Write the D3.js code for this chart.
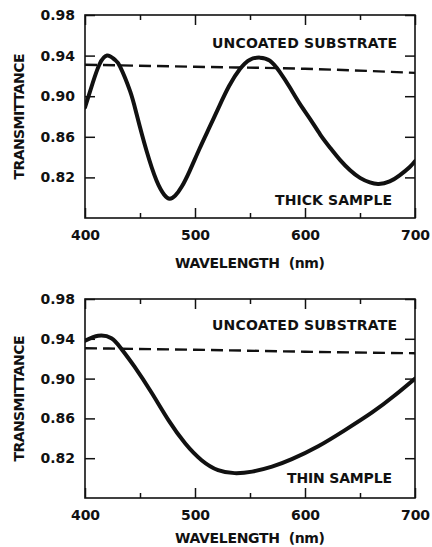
<!DOCTYPE html>
<html>
<head>
<meta charset="utf-8">
<script src="https://cdn.jsdelivr.net/npm/d3@7"></script>
<style>
  html, body { margin: 0; padding: 0; background: #fff; }
  svg { display: block; }
  text { font-family: "DejaVu Sans", "Liberation Sans", sans-serif; font-weight: bold; fill: #111; }
</style>
</head>
<body>
<svg id="chart" width="432" height="547"></svg>
<script>
// Wavelength (nm) and transmittance of the thick coated sample
const thickWavelength = [400, 407, 413, 420, 427, 432, 441, 447, 456, 465, 472, 477, 482, 488, 495, 504, 513, 522, 531, 541, 550, 559, 568, 577, 586, 595, 605, 614, 623, 632, 641, 650, 659, 667, 677, 686, 695, 700];
const thickTransmittance = [0.889, 0.913, 0.931, 0.940, 0.936, 0.929, 0.905, 0.882, 0.846, 0.817, 0.803, 0.799, 0.802, 0.811, 0.826, 0.848, 0.869, 0.890, 0.910, 0.927, 0.936, 0.938, 0.935, 0.924, 0.909, 0.893, 0.877, 0.862, 0.849, 0.837, 0.827, 0.8195, 0.815, 0.8135, 0.816, 0.822, 0.830, 0.836];

// Thin coated sample
const thinWavelength = [400, 412, 424, 433, 445, 461, 476, 491, 506, 521, 536, 552, 570, 588, 612, 636, 661, 682, 700];
const thinTransmittance = [0.938, 0.943, 0.9405, 0.930, 0.912, 0.885, 0.858, 0.835, 0.818, 0.808, 0.805, 0.8065, 0.8115, 0.819, 0.832, 0.848, 0.866, 0.8835, 0.900];

// Uncoated substrate reference (dashed), one per panel
const substrateWavelength = [400, 500, 600, 700];
const substrateTop = [0.931, 0.929, 0.927, 0.923];
const substrateBottom = [0.9305, 0.929, 0.927, 0.9255];

// Axis ticks
const xTickLabels = [400, 500, 600, 700];
const xMinorTicks = [450, 550, 650];
const yTickLabels = [0.82, 0.86, 0.90, 0.94, 0.98];

const panels = [
  { top: 15, bottom: 218, sampleX: thickWavelength, sampleY: thickTransmittance,
    subY: substrateTop, sampleLabel: "THICK SAMPLE", sampleLabelX: 275, sampleLabelW: 117, sampleLabelY: 205,
    subLabelY: 48, titleY: 268 },
  { top: 299, bottom: 498, sampleX: thinWavelength, sampleY: thinTransmittance,
    subY: substrateBottom, sampleLabel: "THIN SAMPLE", sampleLabelX: 287, sampleLabelW: 105, sampleLabelY: 483,
    subLabelY: 330, titleY: 543 }
];

const svg = d3.select("#chart");
const left = 85, right = 415;

panels.forEach((p, i) => {
  const x = d3.scaleLinear().domain([400, 700]).range([left, right]);
  const y = d3.scaleLinear().domain([0.78, 0.98]).range([p.bottom, p.top]);
  const g = svg.append("g");

  const clipId = "clip" + i;
  svg.append("clipPath").attr("id", clipId)
    .append("rect").attr("x", left).attr("y", p.top).attr("width", right - left).attr("height", p.bottom - p.top);

  // ticks on all four sides, pointing inward
  const styleAxis = sel => {
    sel.select(".domain").remove();
    sel.selectAll("line").attr("stroke", "#111").attr("stroke-width", 1.5);
    sel.selectAll("text").style("font-size", "14px").attr("fill", "#111");
  };
  g.append("g").attr("transform", `translate(0,${p.bottom})`)
    .call(d3.axisBottom(x).tickValues(xTickLabels).tickSize(-10).tickPadding(12).tickFormat(d3.format("d")))
    .call(styleAxis);
  g.append("g").attr("transform", `translate(0,${p.bottom})`)
    .call(d3.axisBottom(x).tickValues(xMinorTicks).tickSize(-5).tickFormat(""))
    .call(styleAxis);
  g.append("g").attr("transform", `translate(0,${p.top})`)
    .call(d3.axisTop(x).tickValues(xTickLabels).tickSize(-10).tickFormat(""))
    .call(styleAxis);
  g.append("g").attr("transform", `translate(0,${p.top})`)
    .call(d3.axisTop(x).tickValues(xMinorTicks).tickSize(-5).tickFormat(""))
    .call(styleAxis);
  g.append("g").attr("transform", `translate(${left},0)`)
    .call(d3.axisLeft(y).tickValues(yTickLabels).tickSize(-10).tickPadding(10).tickFormat(d3.format(".2f")))
    .call(styleAxis);
  g.append("g").attr("transform", `translate(${right},0)`)
    .call(d3.axisRight(y).tickValues(yTickLabels).tickSize(-10).tickFormat(""))
    .call(styleAxis);

  // frame
  g.append("rect").attr("x", left).attr("y", p.top)
    .attr("width", right - left).attr("height", p.bottom - p.top)
    .attr("fill", "none").attr("stroke", "#111").attr("stroke-width", 1.6);

  // uncoated substrate
  const subLine = d3.line().x((d, k) => x(substrateWavelength[k])).y(d => y(d)).curve(d3.curveMonotoneX);
  g.append("path").attr("d", subLine(p.subY))
    .attr("clip-path", `url(#${clipId})`)
    .attr("fill", "none").attr("stroke", "#111").attr("stroke-width", 2.4)
    .attr("stroke-dasharray", "12,6");

  // coated sample
  const sampleLine = d3.line().x((d, k) => x(p.sampleX[k])).y(d => y(d)).curve(d3.curveNatural);
  g.append("path").attr("d", sampleLine(p.sampleY))
    .attr("clip-path", `url(#${clipId})`)
    .attr("fill", "none").attr("stroke", "#111").attr("stroke-width", 4)
    .attr("stroke-linejoin", "round").attr("stroke-linecap", "round");

  // labels
  g.append("text").attr("x", 212).attr("y", p.subLabelY)
    .attr("textLength", 185).attr("lengthAdjust", "spacing")
    .style("font-size", "14px").text("UNCOATED SUBSTRATE");
  g.append("text").attr("x", p.sampleLabelX).attr("y", p.sampleLabelY)
    .attr("textLength", p.sampleLabelW).attr("lengthAdjust", "spacing")
    .style("font-size", "14px").text(p.sampleLabel);
  g.append("text").attr("x", 175).attr("y", p.titleY)
    .attr("textLength", 150).attr("lengthAdjust", "spacing")
    .style("font-size", "14px").style("white-space", "pre").text("WAVELENGTH  (nm)");
  const cy = (p.top + p.bottom) / 2;
  g.append("text").attr("transform", `translate(24,${cy}) rotate(-90)`)
    .attr("text-anchor", "middle").attr("textLength", 126).attr("lengthAdjust", "spacing")
    .style("font-size", "14px").text("TRANSMITTANCE");
});
</script>
</body>
</html>
